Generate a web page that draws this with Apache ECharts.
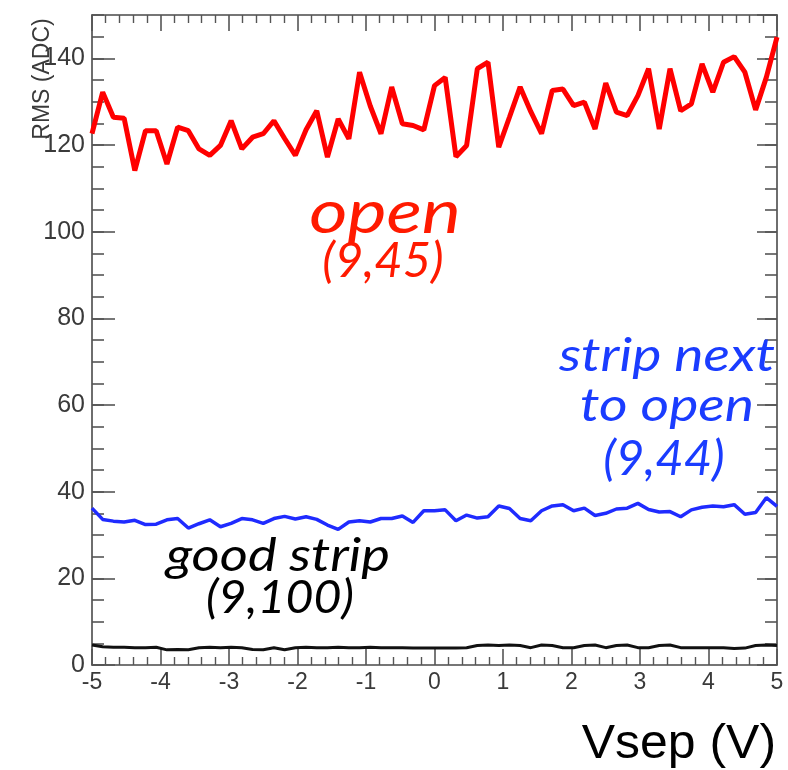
<!DOCTYPE html>
<html>
<head>
<meta charset="utf-8">
<script src="https://cdn.jsdelivr.net/npm/echarts@6/dist/echarts.min.js"></script>
<style>
  html, body { margin: 0; padding: 0; background: #fff; }
  #chart { width: 788px; height: 770px; }
</style>
</head>
<body>
<div id="chart"></div>
<script>
// Separation voltage scan points (V)
const vsep = [
  -5, -4.844, -4.688, -4.531, -4.375, -4.219, -4.063, -3.906, -3.75, -3.594,
  -3.438, -3.281, -3.125, -2.969, -2.813, -2.656, -2.5, -2.344, -2.188, -2.031,
  -1.875, -1.719, -1.563, -1.406, -1.25, -1.094, -0.938, -0.781, -0.625, -0.469,
  -0.313, -0.156, 0, 0.156, 0.313, 0.469, 0.625, 0.781, 0.938, 1.094,
  1.25, 1.406, 1.563, 1.719, 1.875, 2.031, 2.188, 2.344, 2.5, 2.656,
  2.813, 2.969, 3.125, 3.281, 3.438, 3.594, 3.75, 3.906, 4.063, 4.219,
  4.375, 4.531, 4.688, 4.844, 5
];

// RMS noise (ADC counts), open strip (9,45)
const rmsOpen = [
  122.6, 132.2, 126.4, 126.2, 114.1, 123.3, 123.3, 115.6, 124.1, 123.3,
  119.1, 117.6, 119.9, 125.6, 119.1, 121.8, 122.6, 125.6, 121.5, 117.6,
  123.5, 127.9, 117.2, 126.0, 121.4, 136.8, 129.0, 122.6, 133.4, 124.9,
  124.5, 123.5, 133.7, 135.6, 117.3, 119.9, 137.6, 139.1, 119.5, 126.4,
  133.4, 127.7, 122.6, 132.6, 132.9, 129.1, 129.9, 123.7, 134.3, 127.6,
  126.8, 131.4, 137.6, 123.7, 137.6, 127.9, 129.5, 138.7, 132.2, 139.1,
  140.4, 136.8, 128.1, 135.6, 144.9
];

// RMS noise, strip next to the open one (9,44)
const rmsNeighbour = [
  36.2, 33.6, 33.2, 33.0, 33.4, 32.4, 32.5, 33.5, 33.8, 31.6,
  32.6, 33.5, 31.9, 32.7, 33.8, 33.5, 32.7, 33.8, 34.3, 33.7,
  34.2, 33.6, 32.3, 31.3, 33.0, 33.3, 33.0, 33.8, 33.8, 34.4,
  32.9, 35.6, 35.6, 35.8, 33.3, 34.6, 33.9, 34.2, 36.7, 36.1,
  33.8, 33.3, 35.6, 36.7, 37.0, 35.6, 36.2, 34.5, 35.0, 36.0,
  36.2, 37.3, 35.9, 35.3, 35.4, 34.2, 35.8, 36.4, 36.7, 36.5,
  37.0, 34.8, 35.2, 38.6, 36.6
];

// RMS noise, good strip (9,100)
const rmsGood = [
  4.6, 4.2, 4.1, 4.1, 4.0, 4.0, 4.1, 3.5, 3.6, 3.5,
  4.0, 4.1, 4.0, 4.1, 4.0, 3.6, 3.5, 4.0, 3.5, 4.0,
  4.1, 4.0, 4.0, 4.1, 4.0, 4.0, 4.1, 4.0, 4.0, 4.0,
  3.9, 3.9, 3.9, 3.9, 3.9, 4.0, 4.5, 4.6, 4.5, 4.6,
  4.5, 4.0, 4.6, 4.5, 4.0, 4.0, 4.5, 4.6, 4.0, 4.5,
  4.6, 4.0, 4.0, 4.5, 4.6, 4.0, 4.0, 4.0, 4.0, 4.0,
  3.8, 3.9, 4.5, 4.6, 4.5
];

const xTicks = { min: -5, max: 5, major: 1 };
const yTicks = { min: 0, max: 150, major: 20, minor: 5 };

const pairs = ys => vsep.map((x, i) => [x, ys[i]]);

const frameColor = '#4a4a4a';
const tickColor = '#555';
const labelFont = 'Liberation Sans, Arial, sans-serif';

function xAxisDef(pos, labels) {
  return {
    type: 'value', position: pos,
    min: xTicks.min, max: xTicks.max, interval: xTicks.major,
    axisLine: { show: true, onZero: false, lineStyle: { color: frameColor, width: 1.6 } },
    axisTick: { show: true, inside: true, length: 16, lineStyle: { color: tickColor, width: 1.6 } },
    minorTick: { show: true, splitNumber: 5, length: 8, lineStyle: { color: tickColor, width: 1.4 } },
    axisLabel: labels ? {
      show: true, color: '#3a3a3a', fontSize: 23, margin: 6, fontFamily: labelFont
    } : { show: false },
    splitLine: { show: false }, minorSplitLine: { show: false }
  };
}

function yAxisDef(pos, step, len, labels, line) {
  return {
    type: 'value', position: pos,
    min: yTicks.min, max: yTicks.max, interval: step,
    axisLine: { show: line, onZero: false, lineStyle: { color: frameColor, width: 1.6 } },
    axisTick: { show: true, inside: true, length: len, lineStyle: { color: tickColor, width: 1.6 } },
    axisLabel: labels ? {
      show: true, color: '#3a3a3a', fontSize: 25, margin: 7, showMaxLabel: false,
      fontFamily: labelFont
    } : { show: false },
    splitLine: { show: false }
  };
}

const annoFont = 'Lato, "Open Sans", sans-serif';
function note(text, x, y, size, sx, color) {
  return {
    type: 'text', x: x, y: y, scaleX: sx, z: 10,
    style: {
      text: text, fill: color, fontSize: size, fontStyle: 'italic',
      fontFamily: annoFont, textAlign: 'center', textVerticalAlign: 'middle'
    }
  };
}

const chart = echarts.init(document.getElementById('chart'), null, { renderer: 'canvas' });
chart.setOption({
  animation: false,
  backgroundColor: '#ffffff',
  grid: { left: 92, right: 11, top: 15, bottom: 105, containLabel: false },
  xAxis: [xAxisDef('bottom', true), xAxisDef('top', false)],
  yAxis: [
    yAxisDef('left', yTicks.major, 23, true, true),
    yAxisDef('left', yTicks.minor, 12, false, false),
    yAxisDef('right', yTicks.major, 20, false, true),
    yAxisDef('right', yTicks.minor, 12, false, false)
  ],
  series: [
    {
      name: 'open (9,45)', type: 'line', data: pairs(rmsOpen),
      showSymbol: false, lineStyle: { color: '#ff0000', width: 5 }, z: 3
    },
    {
      name: 'strip next to open (9,44)', type: 'line', data: pairs(rmsNeighbour),
      showSymbol: false, lineStyle: { color: '#1f2bff', width: 3.5 }, z: 3
    },
    {
      name: 'good strip (9,100)', type: 'line', data: pairs(rmsGood),
      showSymbol: false, lineStyle: { color: '#111111', width: 3 }, z: 3
    }
  ],
  graphic: [
    {
      type: 'text', x: 43, y: 79, rotation: Math.PI / 2, z: 10,
      style: {
        text: 'RMS (ADC)', fill: '#3a3a3a', fontSize: 23, fontFamily: labelFont,
        textAlign: 'center', textVerticalAlign: 'middle'
      }
    },
    {
      type: 'text', x: 776, y: 745, scaleX: 1.04, z: 10,
      style: {
        text: 'Vsep (V)', fill: '#000', fontSize: 48, fontFamily: labelFont,
        textAlign: 'right', textVerticalAlign: 'middle'
      }
    },
    note('open', 385, 214, 60, 1.23, '#ff1a00'),
    note('(9,45)', 383, 262, 48, 1.02, '#ff1a00'),
    note('strip next', 667, 356, 46, 1.2, '#1a3cff'),
    note('to open', 667, 406, 46, 1.2, '#1a3cff'),
    note('(9,44)', 664, 460, 48, 1.02, '#1a3cff'),
    note('good strip', 278, 556, 46, 1.18, '#000'),
    note('(9,100)', 280, 598, 46, 1.05, '#000')
  ]
});
</script>
</body>
</html>
